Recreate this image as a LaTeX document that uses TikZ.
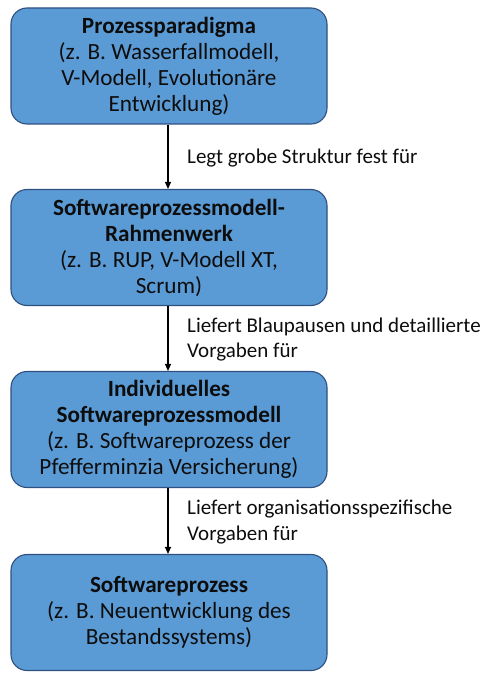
\documentclass[tikz,border=0pt]{standalone}
\usepackage{fontspec}
\setmainfont{Carlito}
\usetikzlibrary{arrows.meta}
\definecolor{boxfill}{HTML}{5B9BD5}
\definecolor{boxdraw}{HTML}{2F4F7F}
\definecolor{txt}{HTML}{0D0D0D}
\tikzset{
  stage/.style={draw=boxdraw, line width=1.1pt, fill=boxfill, rounded corners=16pt,
    minimum width=316pt, minimum height=116pt, inner sep=0pt, align=center,
    text=txt, font=\fontsize{23.2}{26}\selectfont},
  lab/.style={anchor=west, align=left, inner sep=0pt, text=txt,
    font=\fontsize{21}{25.5}\selectfont},
  flow/.style={-{Triangle[length=7pt,width=6pt]}, line width=1.1pt, black}
}
\begin{document}
\begin{tikzpicture}[x=1pt,y=-1pt]
\useasboundingbox (0,0) rectangle (493,682);
\node[stage] (p) at (169,66) {\textbf{Prozessparadigma}\\(z. B. Wasserfallmodell,\\V-Modell, Evolutionäre\\Entwicklung)};
\node[stage] (r) at (169,247.5) {\textbf{Softwareprozessmodell-}\\\textbf{Rahmenwerk}\\(z. B. RUP, V-Modell XT,\\Scrum)};
\node[stage] (i) at (169,429.5) {\textbf{Individuelles}\\\textbf{Softwareprozessmodell}\\(z. B. Softwareprozess der\\Pfefferminzia Versicherung)};
\node[stage] (s) at (169,612.5) {\textbf{Softwareprozess}\\(z. B. Neuentwicklung des\\Bestandssystems)};
\draw[flow] (p.south -| 168,0) -- (r.north -| 168,0);
\draw[flow] (r.south -| 168,0) -- (i.north -| 168,0);
\draw[flow] (i.south -| 168,0) -- (s.north -| 168,0);
\node[lab] (l1) at (187,158) {Legt grobe Struktur fest für};
\node[lab] (l2) at (187,339.5) {Liefert Blaupausen und detaillierte\\Vorgaben für};
\node[lab] (l3) at (187,522) {Liefert organisationsspezifische\\Vorgaben für};
\end{tikzpicture}
\end{document}
